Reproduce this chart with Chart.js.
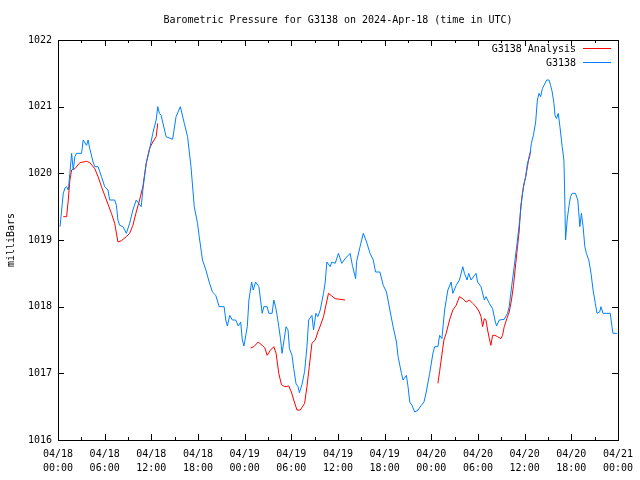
<!DOCTYPE html>
<html>
<head>
<meta charset="utf-8">
<script src="https://cdn.jsdelivr.net/npm/chart.js@4.4.1/dist/chart.umd.min.js"></script>
<style>
  html, body { margin: 0; padding: 0; background: #fff; }
  canvas { display: block; }
</style>
</head>
<body>
<canvas id="chart" width="640" height="480"></canvas>
<script>
"use strict";

// hours since 2024-04-18 00:00 UTC
const stationHours = [
  0.26, 0.68, 0.9, 1.11, 1.32, 1.53, 1.75, 1.96, 2.17, 2.39, 3.03, 3.24, 3.67, 3.87, 4.09, 4.51, 4.73, 5.15, 5.59, 6.01,
  6.43, 6.65, 7.29, 7.51, 7.71, 7.93, 8.35, 8.79, 9.21, 9.63, 10.06, 10.7, 10.91, 11.34, 11.76, 12.19, 12.62, 12.83, 13.04, 13.26,
  13.9, 14.74, 15.18, 15.73, 16.24, 16.66, 17.1, 17.52, 17.94, 18.16, 18.58, 19.02, 19.44, 19.86, 20.29, 20.72, 21.36, 21.57, 21.78, 22.08,
  22.42, 22.85, 23.18, 23.49, 23.7, 23.91, 24.34, 24.55, 24.9, 25.1, 25.41, 25.83, 26.05, 26.25, 26.47, 26.89, 27.11, 27.53, 27.75, 27.97,
  28.17, 28.39, 28.61, 28.81, 29.03, 29.32, 29.58, 29.76, 30.09, 30.31, 30.6, 30.86, 31.04, 31.37, 31.71, 32.01, 32.23, 32.65, 32.86, 33.16,
  33.41, 33.72, 34.14, 34.36, 34.57, 35.0, 35.2, 35.64, 36.06, 36.48, 36.92, 37.56, 37.85, 38.27, 38.4, 38.84, 39.26, 39.68, 40.12, 40.54,
  40.83, 41.39, 41.82, 42.24, 42.67, 43.09, 43.52, 43.73, 44.16, 44.37, 44.8, 45.01, 45.23, 45.52, 45.87, 46.29, 46.71, 47.06, 47.35, 47.79,
  48.21, 48.43, 48.85, 49.07, 49.36, 49.71, 50.13, 50.55, 50.77, 51.2, 51.62, 52.05, 52.26, 52.6, 52.81, 53.11, 53.75, 53.96, 54.39, 54.82,
  55.03, 55.46, 55.88, 56.18, 56.39, 56.74, 57.38, 57.8, 58.02, 58.22, 58.66, 59.08, 59.37, 59.63, 59.85, 60.14, 60.36, 60.65, 60.87, 61.13,
  61.42, 61.64, 61.85, 62.06, 62.28, 62.49, 62.83, 63.13, 63.34, 63.55, 63.77, 63.9, 64.1, 64.32, 64.54, 64.83, 65.05, 65.13, 65.26, 65.47,
  65.69, 65.9, 66.11, 66.53, 66.84, 67.1, 67.3, 67.52, 67.74, 67.94, 68.25, 68.54, 68.8, 69.09, 69.31, 69.65, 69.82, 70.08, 71.01, 71.23,
  71.36, 71.87,
];
const stationPressure = [
  1019.2, 1019.7, 1019.78, 1019.8, 1019.75, 1020.0, 1020.3, 1020.05, 1020.25, 1020.3, 1020.3, 1020.5, 1020.42, 1020.5, 1020.37, 1020.17, 1020.1, 1020.1, 1019.95, 1019.8,
  1019.75, 1019.6, 1019.6, 1019.52, 1019.3, 1019.22, 1019.2, 1019.1, 1019.25, 1019.45, 1019.6, 1019.5, 1019.75, 1020.15, 1020.35, 1020.6, 1020.8, 1021.0, 1020.9, 1020.87,
  1020.55, 1020.51, 1020.85, 1021.0, 1020.75, 1020.55, 1020.1, 1019.5, 1019.25, 1019.05, 1018.7, 1018.55, 1018.37, 1018.22, 1018.17, 1018.0, 1018.0, 1017.8, 1017.71, 1017.87,
  1017.8, 1017.8, 1017.71, 1017.77, 1017.5, 1017.41, 1017.7, 1018.1, 1018.37, 1018.25, 1018.37, 1018.3, 1018.1, 1017.9, 1018.0, 1018.0, 1017.9, 1017.9, 1018.1, 1018.0,
  1017.87, 1017.7, 1017.52, 1017.3, 1017.47, 1017.7, 1017.65, 1017.37, 1017.27, 1017.07, 1016.85, 1016.8, 1016.71, 1016.83, 1017.03, 1017.4, 1017.8, 1017.87, 1017.65, 1017.9,
  1017.85, 1017.95, 1018.2, 1018.37, 1018.67, 1018.6, 1018.67, 1018.65, 1018.8, 1018.65, 1018.72, 1018.8, 1018.62, 1018.42, 1018.68, 1018.9, 1019.1, 1018.97, 1018.8, 1018.7,
  1018.52, 1018.52, 1018.32, 1018.22, 1017.95, 1017.7, 1017.47, 1017.25, 1017.0, 1016.9, 1016.97, 1016.8, 1016.57, 1016.52, 1016.42, 1016.45, 1016.52, 1016.57, 1016.72, 1017.0,
  1017.3, 1017.4, 1017.4, 1017.57, 1017.52, 1017.95, 1018.25, 1018.37, 1018.2, 1018.32, 1018.4, 1018.6, 1018.5, 1018.4, 1018.5, 1018.4, 1018.5, 1018.37, 1018.3, 1018.1,
  1018.15, 1018.05, 1017.97, 1017.8, 1017.71, 1017.8, 1017.81, 1017.9, 1018.0, 1018.2, 1018.6, 1019.0, 1019.3, 1019.6, 1019.8, 1019.95, 1020.15, 1020.25, 1020.45, 1020.57,
  1020.77, 1021.1, 1021.2, 1021.15, 1021.27, 1021.32, 1021.4, 1021.4, 1021.32, 1021.22, 1021.05, 1020.87, 1020.82, 1020.9, 1020.7, 1020.4, 1020.2, 1019.82, 1019.0, 1019.3,
  1019.5, 1019.65, 1019.7, 1019.7, 1019.6, 1019.2, 1019.4, 1019.2, 1018.9, 1018.8, 1018.7, 1018.5, 1018.25, 1018.05, 1017.9, 1017.92, 1018.0, 1017.9, 1017.9, 1017.7,
  1017.6, 1017.6,
];

// analysis: null breaks the line between the three runs
const analysisHours = [
  0.68, 1.11, 1.32, 1.53, 1.75, 2.17, 2.81, 3.67, 4.09, 4.73, 5.15, 5.59, 6.23, 6.87, 7.29, 7.71, 8.15, 8.79, 9.21, 9.63,
  10.06, 10.49, 10.91, 11.34, 11.76, 12.19, 12.62, 12.83, 18.0,
  24.77, 25.19, 25.74, 26.25, 26.6, 26.89, 27.33, 27.75, 28.04, 28.39, 28.73, 29.16, 29.67, 30.01, 30.31, 30.73, 31.16, 31.71, 32.01, 32.31,
  32.65, 33.08, 33.41, 33.72, 34.14, 34.78, 35.2, 35.64, 36.28, 36.92, 42.0,
  48.85, 49.07, 49.27, 49.62, 49.91, 50.35, 50.77, 51.2, 51.62, 52.05, 52.47, 52.9, 53.32, 53.75, 54.18, 54.39, 54.6, 54.82, 55.03, 55.24,
  55.46, 55.66, 55.88, 56.18, 56.52, 56.95, 57.16, 57.38, 57.71, 58.02, 58.31, 58.57, 58.86, 59.08, 59.29, 59.5, 59.72, 59.93, 60.14, 60.36,
  60.57, 60.78,
];
const analysisPressure = [
  1019.35, 1019.35, 1019.6, 1019.9, 1020.05, 1020.07, 1020.16, 1020.18, 1020.16, 1020.07, 1019.95, 1019.8, 1019.6, 1019.4, 1019.25, 1018.97, 1018.99, 1019.05, 1019.1, 1019.22,
  1019.42, 1019.6, 1019.8, 1020.15, 1020.37, 1020.47, 1020.55, 1020.75, null,
  1017.38, 1017.4, 1017.47, 1017.42, 1017.38, 1017.27, 1017.35, 1017.4, 1017.3, 1017.0, 1016.83, 1016.8, 1016.81, 1016.72, 1016.6, 1016.45, 1016.45, 1016.55, 1016.8, 1017.1,
  1017.45, 1017.5, 1017.62, 1017.71, 1017.85, 1018.2, 1018.16, 1018.12, 1018.11, 1018.1, null,
  1016.85, 1017.03, 1017.2, 1017.5, 1017.6, 1017.8, 1017.95, 1018.02, 1018.15, 1018.12, 1018.07, 1018.1, 1018.05, 1018.0, 1017.92, 1017.85, 1017.7, 1017.82, 1017.8, 1017.65,
  1017.52, 1017.42, 1017.57, 1017.57, 1017.55, 1017.52, 1017.57, 1017.7, 1017.82, 1017.92, 1018.1, 1018.32, 1018.65, 1018.9, 1019.12, 1019.5, 1019.7, 1019.85, 1019.95, 1020.1,
  1020.25, 1020.33,
];

const xTickDates = ["04/18", "04/18", "04/18", "04/18", "04/19", "04/19", "04/19", "04/19", "04/20", "04/20", "04/20", "04/20", "04/21"];
const xTickTimes = ["00:00", "06:00", "12:00", "18:00", "00:00", "06:00", "12:00", "18:00", "00:00", "06:00", "12:00", "18:00", "00:00"];
const yTickLabels = ["1016", "1017", "1018", "1019", "1020", "1021", "1022"];
const seriesNames = ["G3138 Analysis", "G3138"];
const seriesColors = ["#ff0000", "#0080ff"];

const FONT = "DejaVu Sans Mono";
const pts = (xs, ys) => xs.map((x, i) => ({ x, y: ys[i] }));

const frame = {
  id: "frame",
  afterDraw(chart) {
    const { ctx, chartArea: a } = chart;
    const xs = chart.scales.x;
    const ys = chart.scales.y;
    ctx.save();
    ctx.strokeStyle = "#000";
    ctx.lineWidth = 1;
    ctx.beginPath();
    for (let h = 0; h <= 72; h += 3) {
      const x = Math.round(xs.getPixelForValue(h)) + 0.5;
      const len = h % 6 === 0 ? 6 : 3;
      ctx.moveTo(x, a.bottom);
      ctx.lineTo(x, a.bottom - len);
      ctx.moveTo(x, a.top);
      ctx.lineTo(x, a.top + len);
    }
    for (let p = 1016; p <= 1022; p += 1) {
      const y = Math.round(ys.getPixelForValue(p)) + 0.5;
      ctx.moveTo(a.left, y);
      ctx.lineTo(a.left + 6, y);
      ctx.moveTo(a.right, y);
      ctx.lineTo(a.right - 6, y);
    }
    ctx.stroke();
    ctx.strokeRect(Math.round(a.left) + 0.5, Math.round(a.top) + 0.5, Math.round(a.right - a.left), Math.round(a.bottom - a.top));

    ctx.fillStyle = "#000";
    ctx.font = `10px "${FONT}"`;
    ctx.textBaseline = "middle";
    ctx.textAlign = "center";
    ctx.fillText("Barometric Pressure for G3138 on 2024-Apr-18 (time in UTC)", (a.left + a.right) / 2, 20);

    ctx.textAlign = "right";
    seriesNames.forEach((name, i) => {
      const y = 49 + i * 14;
      ctx.fillStyle = "#000";
      ctx.fillText(name, 576, y);
      ctx.strokeStyle = seriesColors[i];
      ctx.beginPath();
      ctx.moveTo(583, y - 0.5);
      ctx.lineTo(611, y - 0.5);
      ctx.stroke();
    });

    ctx.translate(11, (a.top + a.bottom) / 2);
    ctx.rotate(-Math.PI / 2);
    ctx.textAlign = "center";
    ctx.fillStyle = "#000";
    ctx.fillText("milliBars", 0, 0);
    ctx.restore();
  },
};

new Chart(document.getElementById("chart"), {
  type: "line",
  data: {
    datasets: [
      {
        label: seriesNames[0],
        data: pts(analysisHours, analysisPressure),
        borderColor: seriesColors[0],
        borderWidth: 1,
        pointRadius: 0,
        spanGaps: false,
        order: 1,
      },
      {
        label: seriesNames[1],
        data: pts(stationHours, stationPressure),
        borderColor: seriesColors[1],
        borderWidth: 1,
        pointRadius: 0,
        order: 0,
      },
    ],
  },
  options: {
    responsive: false,
    animation: false,
    layout: { padding: { top: 40, right: 19, left: 0, bottom: 0 } },
    plugins: { legend: { display: false }, tooltip: { enabled: false } },
    scales: {
      x: {
        type: "linear",
        min: 0,
        max: 72,
        border: { display: false },
        grid: { display: false, drawTicks: false },
        afterFit: (s) => { s.height = 40; },
        ticks: {
          stepSize: 6,
          padding: 7,
          maxRotation: 0,
          autoSkip: false,
          color: "#000",
          font: { family: FONT, size: 10, lineHeight: 1.4 },
          callback: (v) => [xTickDates[v / 6], xTickTimes[v / 6]],
        },
      },
      y: {
        min: 1016,
        max: 1022,
        border: { display: false },
        grid: { display: false, drawTicks: false },
        afterFit: (s) => { s.width = 58; },
        ticks: {
          stepSize: 1,
          padding: 6,
          color: "#000",
          font: { family: FONT, size: 10 },
          callback: (v) => yTickLabels[v - 1016],
        },
      },
    },
  },
  plugins: [frame],
});
</script>
</body>
</html>
